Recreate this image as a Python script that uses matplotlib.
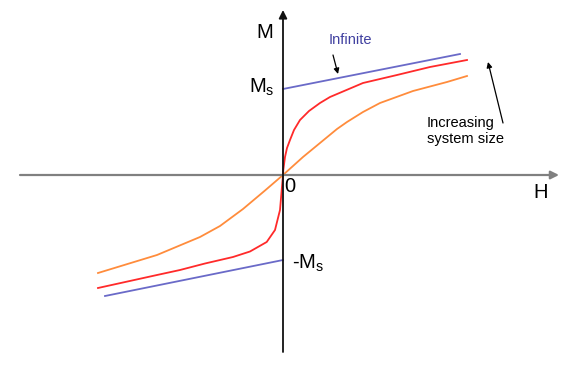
import matplotlib.pyplot as plt
import numpy as np

plt.rcParams['font.family'] = ['Liberation Sans', 'DejaVu Sans']

# curves, H and M in arbitrary units (origin at the axes crossing)
inf_upper_H = [0.0, 1.77]
inf_upper_M = [0.86, 1.21]
inf_lower_H = [0.0, -1.78]
inf_lower_M = [-0.85, -1.21]

red_H = [-1.85, -1.26, -1.03, -0.78, -0.50, -0.33, -0.163, -0.08, -0.03, -0.013, 0.0,
         0.003, 0.02, 0.04, 0.07, 0.11, 0.17, 0.26, 0.37, 0.47, 0.80, 1.14, 1.47, 1.84]
red_M = [-1.13, -1.00, -0.95, -0.885, -0.82, -0.765, -0.67, -0.55, -0.35, -0.15, 0.0,
         0.05, 0.18, 0.27, 0.35, 0.45, 0.55, 0.64, 0.72, 0.78, 0.92, 1.00, 1.08, 1.15]

orange_H = [-1.85, -1.26, -0.83, -0.63, -0.40, -0.18, 0.0,
            0.20, 0.54, 0.64, 0.80, 0.97, 1.30, 1.64, 1.84]
orange_M = [-0.98, -0.80, -0.62, -0.51, -0.34, -0.155, 0.0,
            0.18, 0.46, 0.53, 0.63, 0.72, 0.84, 0.93, 0.99]

BLUE = '#6a6ac8'
RED = '#ff2a2a'
ORANGE = '#ff8c3c'

fig = plt.figure(figsize=(5.81, 3.71), dpi=100)
ax = fig.add_axes([0, 0, 1, 1])
ax.set_xlim(-2.83, 2.98)
ax.set_ylim(-1.96, 1.75)
ax.axis('off')

# axes with arrow heads
ax.annotate('', xy=(2.76, 0), xytext=(-2.63, 0),
            arrowprops=dict(arrowstyle='-|>', color='#808080', lw=1.6,
                            mutation_scale=12, shrinkA=0, shrinkB=0))
ax.annotate('', xy=(0, 1.65), xytext=(0, -1.77),
            arrowprops=dict(arrowstyle='-|>', color='#111111', lw=1.3,
                            mutation_scale=12, shrinkA=0, shrinkB=0))

ax.plot(inf_upper_H, inf_upper_M, color=BLUE, lw=1.3)
ax.plot(inf_lower_H, inf_lower_M, color=BLUE, lw=1.3)
ax.plot(red_H, red_M, color=RED, lw=1.3, solid_joinstyle='round')
ax.plot(orange_H, orange_M, color=ORANGE, lw=1.3, solid_joinstyle='round')

ax.text(-0.18, 1.43, 'M', fontsize=14.5, ha='center', va='center')
ax.text(-0.08, 0.88, r'M$_\mathregular{s}$', fontsize=14.5, ha='right', va='center')
ax.text(0.065, -0.11, '0', fontsize=14.5, ha='center', va='center')
ax.text(2.58, -0.18, 'H', fontsize=14.5, ha='center', va='center')
ax.text(0.09, -0.88, r'-M$_\mathregular{s}$', fontsize=14.5, ha='left', va='center')

ax.text(0.67, 1.35, 'Infinite', fontsize=10.5, color='#4040a0', ha='center', va='center')
ax.annotate('', xy=(0.55, 1.01), xytext=(0.50, 1.20),
            arrowprops=dict(arrowstyle='-|>', color='black', lw=0.9,
                            mutation_scale=8, shrinkA=0, shrinkB=0))

ax.text(1.44, 0.44, 'Increasing\nsystem size', fontsize=10.5, ha='left', va='center',
        linespacing=1.1)
ax.annotate('', xy=(2.05, 1.13), xytext=(2.20, 0.52),
            arrowprops=dict(arrowstyle='-|>', color='black', lw=0.9,
                            mutation_scale=8, shrinkA=0, shrinkB=0))

fig.savefig('out.png', dpi=100)
